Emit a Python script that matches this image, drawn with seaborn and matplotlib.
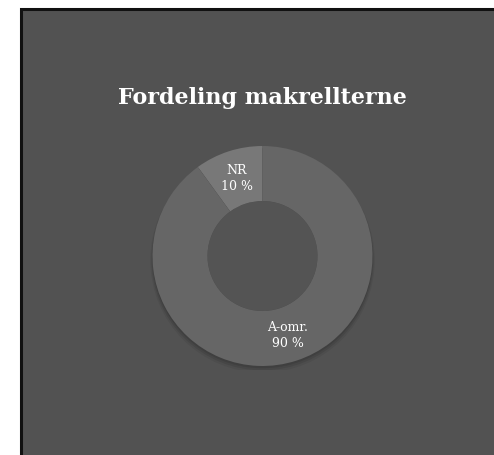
import matplotlib
matplotlib.use("Agg")
import matplotlib.pyplot as plt
import seaborn as sns
from matplotlib.patches import Rectangle, Circle

categories = ["NR", "A-omr."]
values = [10, 90]
colors = ["#787878", "#666666"]
title = "Fordeling makrellterne"

sns.set_theme(style="white")
plt.rcParams["font.family"] = ["DejaVu Serif", "DejaVu Sans"]

W, H = 494, 456
fig = plt.figure(figsize=(W / 100, H / 100), dpi=100, facecolor="white")

# dark panel with black border (left and top)
panel = Rectangle((21 / W, -0.05), 1.1, 1.05 - 10 / H, transform=fig.transFigure,
                  facecolor="#525252", edgecolor="#111111", linewidth=2.2, zorder=-5)
fig.patches.append(panel)

cx, cy, r = 262.5, 257, 110
ax = fig.add_axes([(cx - r - 4) / W, (H - cy - r - 4) / H, (2 * r + 8) / W, (2 * r + 8) / H])
ax.set_facecolor("none")
ax.set_zorder(2)

# soft shadow
for i, a in enumerate([0.10, 0.08, 0.06]):
    ax.add_patch(Circle((0.0, -0.02 - 0.01 * i), 1.0 + 0.01 * i, facecolor="black",
                        alpha=a, edgecolor="none", zorder=0))

labels = [f"{c}\n{v} %" for c, v in zip(categories, values)]
wedges, texts = ax.pie(values, labels=labels, colors=colors, startangle=90,
                       counterclock=True, radius=1.0, labeldistance=0.75,
                       wedgeprops=dict(width=0.5, edgecolor="none"),
                       textprops=dict(color="white", fontsize=9, ha="center",
                                      va="center", linespacing=1.3))
for t in texts:
    t.set_horizontalalignment("center")
    t.set_verticalalignment("center")

# inner hole shading
ax.add_patch(Circle((0, 0), 0.5, facecolor="#545454", edgecolor="none", zorder=0.5))

lim = (r + 4) / r
ax.set_xlim(-lim, lim)
ax.set_ylim(-lim, lim)
ax.set_aspect("equal")
ax.axis("off")

fig.text(262 / W, 1 - 98 / H, title, ha="center", va="center", color="white",
         fontsize=16, fontweight="bold", family=["DejaVu Serif", "DejaVu Sans"],
         zorder=3)

fig.savefig("out.png", dpi=100, facecolor="white")
